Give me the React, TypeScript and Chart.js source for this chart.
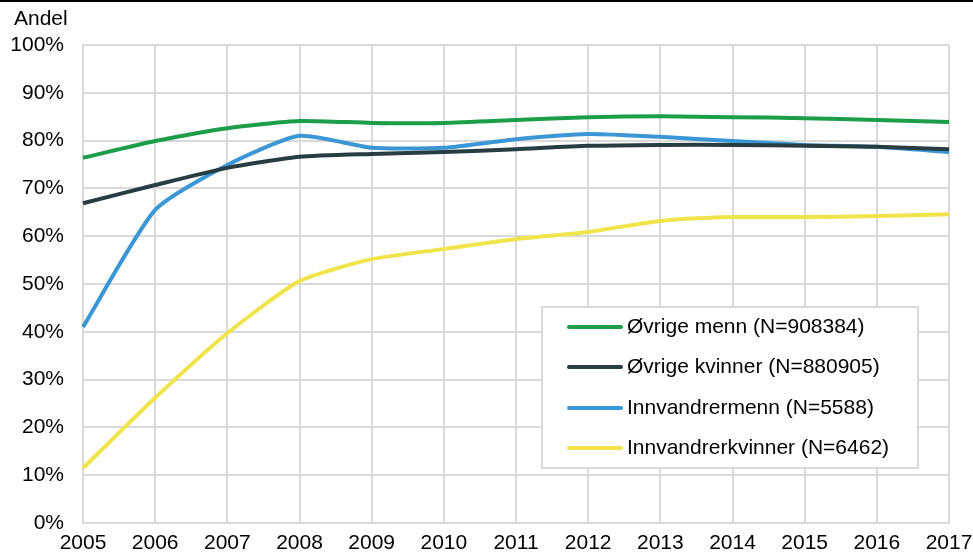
import React, { useEffect, useRef } from "react";
import { Chart, registerables } from "chart.js";

Chart.register(...registerables);

const years = ["2005","2006","2007","2008","2009","2010","2011","2012","2013","2014","2015","2016","2017"];
const ovrigeMenn = [76.4, 79.9, 82.6, 84.1, 83.7, 83.7, 84.3, 84.9, 85.1, 84.9, 84.7, 84.3, 83.9];
const ovrigeKvinner = [66.9, 70.7, 74.3, 76.6, 77.2, 77.6, 78.2, 78.9, 79.1, 79.1, 78.9, 78.7, 78.2];
const innvandrerMenn = [41.0, 65.5, 74.9, 81.0, 78.5, 78.5, 80.3, 81.4, 80.8, 79.9, 79.1, 78.7, 77.6];
const innvandrerKvinner = [11.5, 26.2, 39.7, 50.6, 55.2, 57.3, 59.4, 60.9, 63.2, 64.0, 64.0, 64.2, 64.6];
const seriesLabels = [
  "Øvrige menn (N=908384)",
  "Øvrige kvinner (N=880905)",
  "Innvandrermenn (N=5588)",
  "Innvandrerkvinner (N=6462)",
];
const colors = ["#1c9d4a", "#273d42", "#3a96d4", "#efe44a"];
const yTitle = "Andel";
const FONT = "'Liberation Sans', Arial, sans-serif";

const overlay = {
  id: "overlay",
  afterDraw(chart: any) {
    const ctx = chart.ctx;
    ctx.save();
    ctx.fillStyle = "#000";
    ctx.fillRect(0, 0, chart.width, 2);
    ctx.font = `21px ${FONT}`;
    ctx.fillStyle = "#000";
    ctx.textAlign = "left";
    ctx.textBaseline = "middle";
    ctx.fillText(yTitle, 14, 19);
    const bx = 542, by = 307, bw = 376, bh = 161;
    ctx.fillStyle = "#fff";
    ctx.fillRect(bx, by, bw, bh);
    ctx.strokeStyle = "#d9d9d9";
    ctx.lineWidth = 2;
    ctx.strokeRect(bx, by, bw, bh);
    const rows = [327, 367, 408, 448];
    chart.data.datasets.forEach((ds: any, i: number) => {
      const y = rows[i];
      ctx.strokeStyle = ds.borderColor;
      ctx.lineWidth = 4;
      ctx.lineCap = "round";
      ctx.beginPath();
      ctx.moveTo(569, y);
      ctx.lineTo(621, y);
      ctx.stroke();
      ctx.fillStyle = "#000";
      ctx.font = `21px ${FONT}`;
      ctx.textAlign = "left";
      ctx.textBaseline = "middle";
      ctx.fillText(ds.label, 627, y);
    });
    ctx.restore();
  },
};

export default function App() {
  const ref = useRef<HTMLCanvasElement>(null);
  useEffect(() => {
    document.body.style.margin = "0";
    const series = [ovrigeMenn, ovrigeKvinner, innvandrerMenn, innvandrerKvinner];
    const chart = new Chart(ref.current!, {
      type: "line",
      data: {
        labels: years,
        datasets: series.map((d, i) => ({
          label: seriesLabels[i],
          data: d,
          borderColor: colors[i],
          backgroundColor: colors[i],
          borderWidth: 4,
          pointRadius: 0,
          tension: 0.2,
          fill: false,
        })),
      },
      options: {
        animation: false,
        responsive: false,
        layout: { padding: { top: 45, right: 24, left: 0, bottom: 0 } },
        plugins: { legend: { display: false }, tooltip: { enabled: false } },
        scales: {
          x: {
            offset: false,
            grid: { color: "#d9d9d9", lineWidth: 2, drawTicks: false },
            border: { color: "#d9d9d9", width: 2 },
            ticks: { color: "#000", font: { family: FONT, size: 21 }, padding: 8, maxRotation: 0, autoSkip: false },
            afterFit: (s: any) => { s.height = 29; s.paddingLeft = 0; s.paddingRight = 0; },
          },
          y: {
            min: 0,
            max: 100,
            grid: { color: "#d9d9d9", lineWidth: 2, drawTicks: false },
            border: { color: "#d9d9d9", width: 2 },
            ticks: {
              stepSize: 10,
              color: "#000",
              font: { family: FONT, size: 21 },
              padding: 19,
              callback: (v: any) => `${v}%`,
            },
            afterFit: (s: any) => { s.width = 83; s.paddingTop = 0; s.paddingBottom = 0; },
          },
        },
      },
      plugins: [overlay],
    });
    return () => chart.destroy();
  }, []);
  return (
    <div style={{ width: 973, height: 552 }}>
      <canvas ref={ref} width={973} height={552} style={{ display: "block" }} />
    </div>
  );
}
